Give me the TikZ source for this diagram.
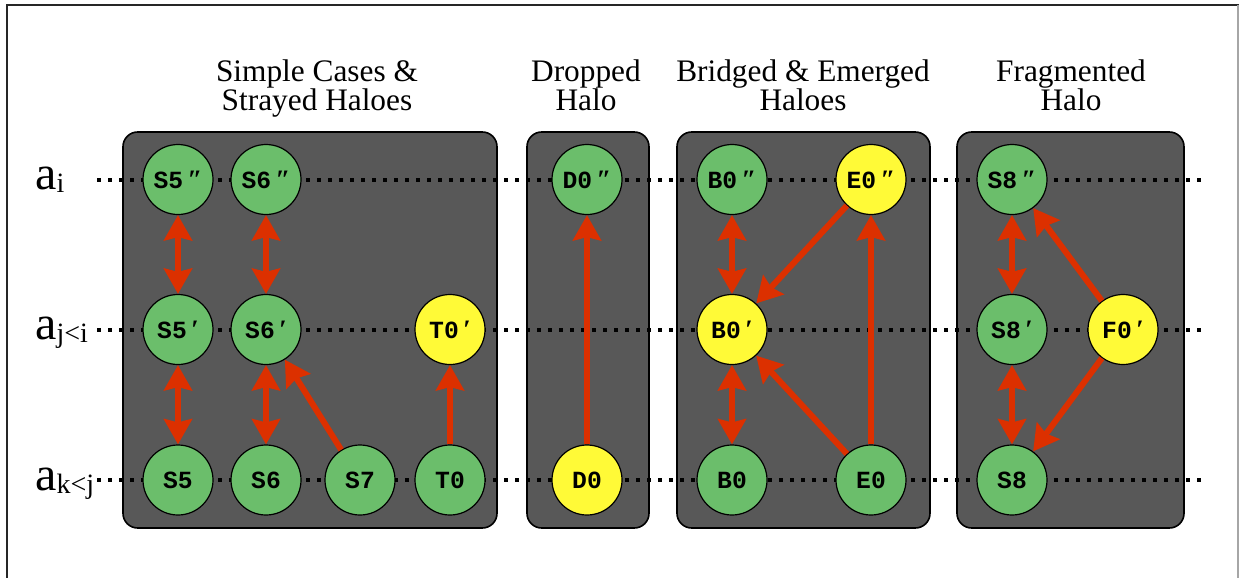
\documentclass[tikz,border=0pt]{standalone}
\usepackage{fontspec}
\setmainfont{Liberation Serif}
\setmonofont{Liberation Mono}
\usetikzlibrary{arrows.meta}
\definecolor{halogreen}{RGB}{107,190,107}
\definecolor{haloyellow}{RGB}{255,250,55}
\definecolor{panelgray}{RGB}{88,88,88}
\definecolor{arrowred}{RGB}{220,48,0}
\newcommand\hsgl{{\rmfamily\bfseries\fontsize{20}{20}\selectfont\,′}}
\newcommand\hdbl{{\rmfamily\bfseries\fontsize{20}{20}\selectfont\,″}}
\begin{document}
\begin{tikzpicture}[x=0.75pt,y=-0.75pt,
  halo/.style={circle,draw=black,line width=0.9pt,minimum size=52.5pt,inner sep=0pt,
    font=\ttfamily\bfseries\fontsize{18.5}{18.5}\selectfont},
  greenhalo/.style={halo,fill=halogreen},
  yellowhalo/.style={halo,fill=haloyellow},
  panel/.style={draw=black,line width=1.2pt,fill=panelgray,rounded corners=11pt},
  levelline/.style={line width=3pt,dash pattern=on 3pt off 5.25pt,black},
  tipstyle/.tip={Stealth[length=19pt,width=21pt,inset=2.5pt]},
  link/.style={draw=arrowred,line width=4.5pt,-tipstyle},
  bothlink/.style={draw=arrowred,line width=4.5pt,tipstyle-tipstyle},
  heading/.style={align=center,font=\fontsize{23.5}{18}\selectfont,inner sep=0pt,anchor=north},
  levellabel/.style={inner sep=0pt,anchor=base west,font=\fontsize{36}{36}\selectfont}]
\useasboundingbox (0,0) rectangle (1239,578);
% frame
\draw[line width=1.5pt,black!85] (6.5,578) -- (6.5,4.5) -- (1239,4.5);
\draw[line width=0.8pt,black!35] (1238,4.5) -- (1238,578);
% panels
\draw[panel] (123,132) rectangle (497,528);
\draw[panel] (527,132) rectangle (649,528);
\draw[panel] (677,132) rectangle (930,528);
\draw[panel] (957,132) rectangle (1184,528);
% headings
\node[heading] (h1) at (317,59) {Simple Cases \&\\Strayed Haloes};
\node[heading] (h2) at (586,59) {Dropped\\Halo};
\node[heading] (h3) at (803,59) {Bridged \& Emerged\\Haloes};
\node[heading] (h4) at (1071,59) {Fragmented\\Halo};
% level labels
\node[levellabel] (la) at (35,189.5) {a\raisebox{-2.5pt}{\fontsize{21}{21}\selectfont i}};
\node[levellabel] (lb) at (35,339.5) {a\raisebox{-2.5pt}{\fontsize{21}{21}\selectfont j<i}};
\node[levellabel] (lc) at (35,490) {a\raisebox{-2.5pt}{\fontsize{21}{21}\selectfont k<j}};
% level lines
\coordinate (l1s) at (97,179.5); \coordinate (l1e) at (1205,179.5);
\coordinate (l2s) at (97,329.5); \coordinate (l2e) at (1205,329.5);
\coordinate (l3s) at (97,480); \coordinate (l3e) at (1205,480);
\draw[levelline] (l1s) -- (l1e);
\draw[levelline] (l2s) -- (l2e);
\draw[levelline] (l3s) -- (l3e);
% nodes
\node[greenhalo] (s5pp) at (178,179.5) {S5\hdbl};
\node[greenhalo] (s6pp) at (266,179.5) {S6\hdbl};
\node[greenhalo] (s5p) at (178,329.5) {S5\hsgl};
\node[greenhalo] (s6p) at (266,329.5) {S6\hsgl};
\node[yellowhalo] (t0p) at (450,329.5) {T0\hsgl};
\node[greenhalo] (s5) at (178,480) {S5};
\node[greenhalo] (s6) at (266,480) {S6};
\node[greenhalo] (s7) at (360,480) {S7};
\node[greenhalo] (t0) at (450,480) {T0};
\node[greenhalo] (d0pp) at (587,179.5) {D0\hdbl};
\node[yellowhalo] (d0) at (587,480) {D0};
\node[greenhalo] (b0pp) at (732,179.5) {B0\hdbl};
\node[yellowhalo] (e0pp) at (871,179.5) {E0\hdbl};
\node[yellowhalo] (b0p) at (732,329.5) {B0\hsgl};
\node[greenhalo] (b0) at (732,480) {B0};
\node[greenhalo] (e0) at (871,480) {E0};
\node[greenhalo] (s8pp) at (1012,179.5) {S8\hdbl};
\node[greenhalo] (s8p) at (1012,329.5) {S8\hsgl};
\node[yellowhalo] (f0p) at (1123,329.5) {F0\hsgl};
\node[greenhalo] (s8) at (1012,480) {S8};
% arrows
\draw[bothlink] (s5pp) -- (s5p);
\draw[bothlink] (s5p) -- (s5);
\draw[bothlink] (s6pp) -- (s6p);
\draw[bothlink] (s6p) -- (s6);
\draw[link] (s7) -- (s6p);
\draw[link] (t0) -- (t0p);
\draw[link] (d0) -- (d0pp);
\draw[bothlink] (b0pp) -- (b0p);
\draw[bothlink] (b0p) -- (b0);
\draw[link] (e0pp) -- (b0p);
\draw[link] (e0) -- (b0p);
\draw[link] (e0) -- (e0pp);
\draw[bothlink] (s8pp) -- (s8p);
\draw[bothlink] (s8p) -- (s8);
\draw[link] (f0p) -- (s8pp);
\draw[link] (f0p) -- (s8);
\end{tikzpicture}
\end{document}
